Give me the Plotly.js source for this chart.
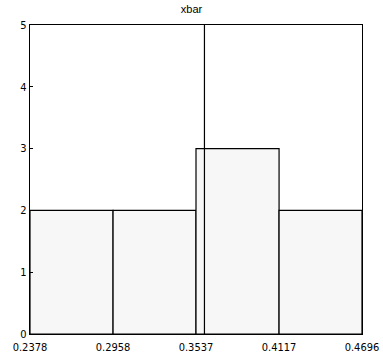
<!DOCTYPE html>
<html><head><meta charset="utf-8">
<script src="https://cdn.plot.ly/plotly-3.0.1.min.js"></script>
<style>html,body{margin:0;padding:0;background:#fff}#c{width:383px;height:360px}</style>
</head><body><div id="c"></div>
<script>
var binEdges = [0.2378, 0.2958, 0.3537, 0.4117, 0.4696];
var counts = [2, 2, 3, 2];
var meanValue = 0.3596;
var yTicks = [0, 1, 2, 3, 4, 5];

var mids = [], widths = [];
for (var i = 0; i < counts.length; i++) {
  mids.push((binEdges[i] + binEdges[i+1]) / 2);
  widths.push(binEdges[i+1] - binEdges[i]);
}
var traces = [
  {type:'bar', x:mids, y:counts, width:widths,
   marker:{color:'#f7f7f7', line:{color:'#000', width:1.2}}, hoverinfo:'none'},
  {type:'scatter', mode:'lines', x:[meanValue, meanValue], y:[0, 5],
   line:{color:'#000', width:1.2}, hoverinfo:'none'}
];
var layout = {
  width:383, height:360, showlegend:false,
  margin:{l:30, r:21, t:25, b:26},
  paper_bgcolor:'#fff', plot_bgcolor:'#fff',
  font:{family:'DejaVu Sans Condensed, Liberation Sans Narrow, sans-serif', size:11, color:'#000'},
  title:{text:'xbar', x:0.5, xanchor:'center', y:0.975, yanchor:'middle', font:{size:11, family:'Liberation Sans, sans-serif'}},
  xaxis:{range:[binEdges[0], binEdges[binEdges.length-1]], tickvals:binEdges,
         ticktext:binEdges.map(function(v){return v.toFixed(4);}),
         showgrid:false, zeroline:false, showline:true, mirror:true, linecolor:'#000', linewidth:1.2,
         ticks:'', ticklen:0, ticklabelstandoff:3, tickfont:{size:11}},
  yaxis:{range:[0,5], tickvals:yTicks, showgrid:false, zeroline:false, showline:true, mirror:true,
         linecolor:'#000', linewidth:1.2, ticks:'inside', ticklen:3, tickcolor:'#000', tickfont:{size:11}}
};
Plotly.newPlot('c', traces, layout, {staticPlot:true, displayModeBar:false});
</script></body></html>
